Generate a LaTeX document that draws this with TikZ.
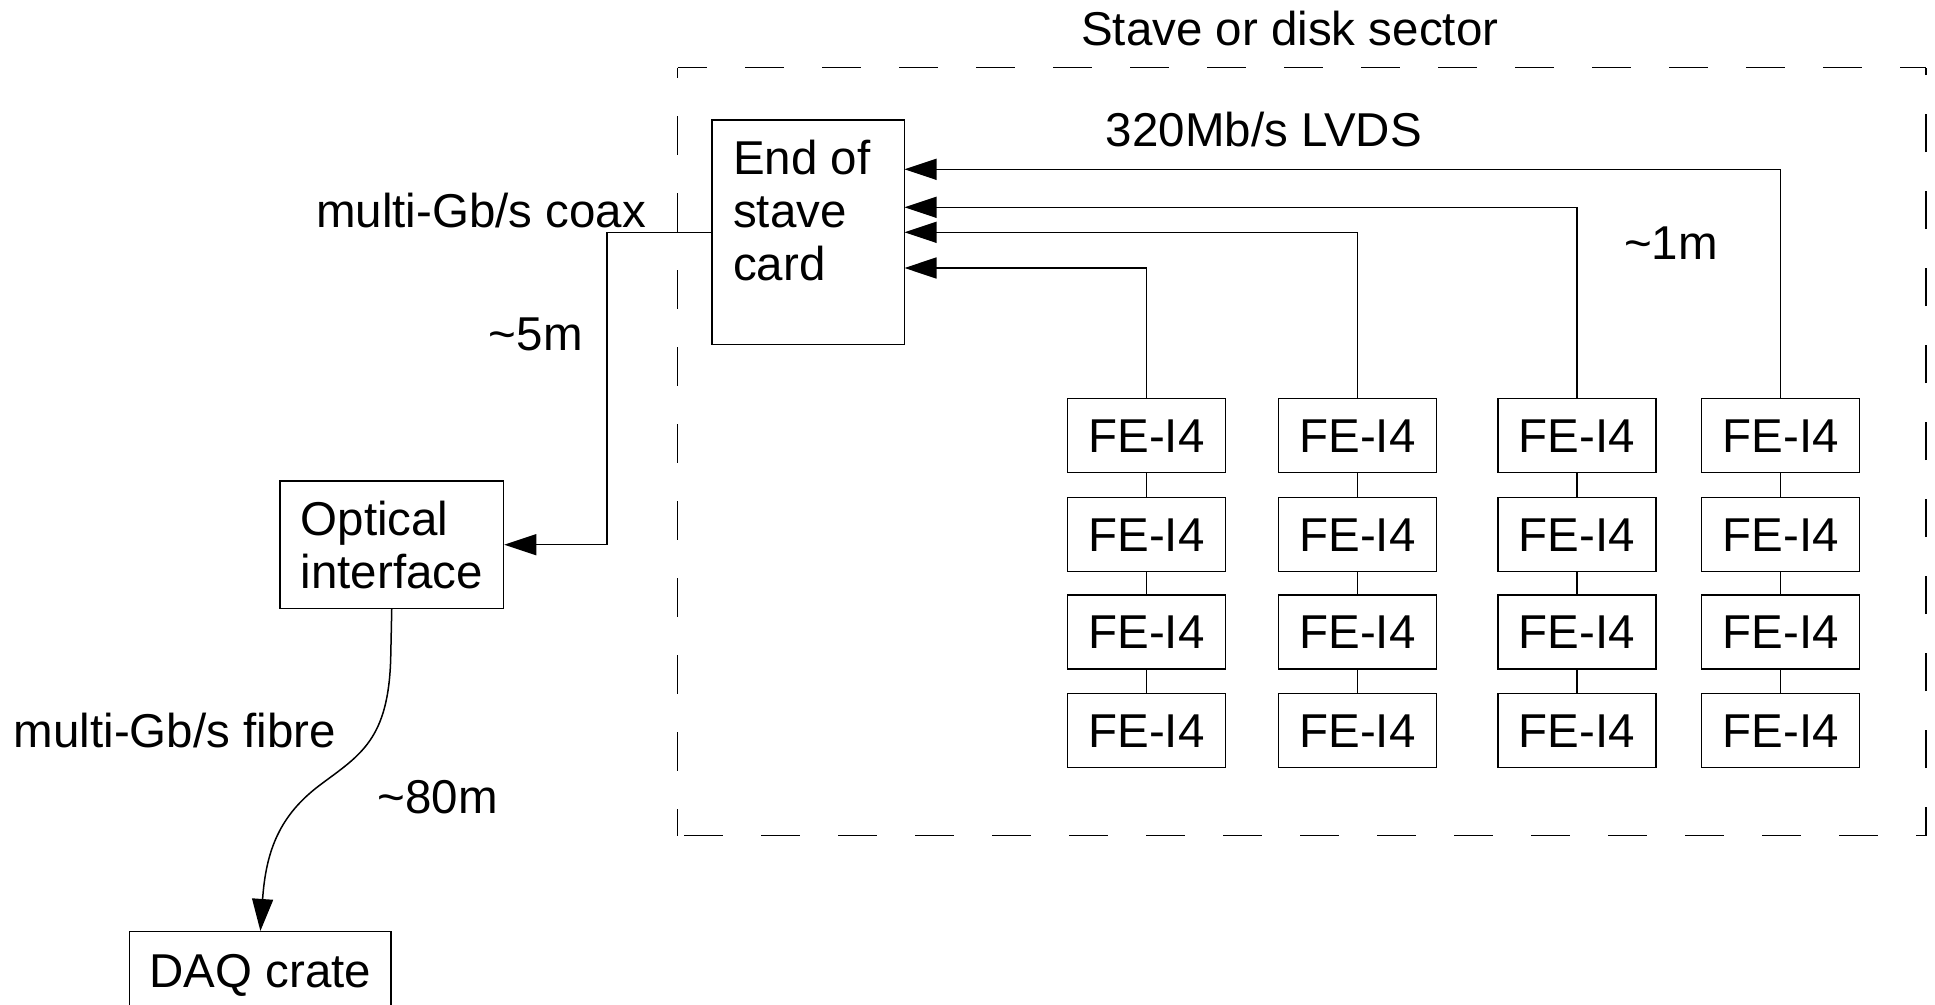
\documentclass[tikz,border=0pt]{standalone}
\usepackage{fontspec}
\setmainfont{Liberation Sans}
\usetikzlibrary{arrows.meta}
\begin{document}
\begin{tikzpicture}[x=1pt,y=-1pt,
  every node/.style={font=\fontsize{47.5}{53}\selectfont},
  ln/.style={line width=1.5pt},
  arr/.style={ln,-{Triangle[length=32pt,width=21pt]}},
  febox/.style={draw,ln,minimum width=158pt,minimum height=74pt,inner sep=0pt,text height=34pt,text depth=0pt},
  txt/.style={inner sep=0pt},
  dsh/.style={ln,dash pattern=on 38.5pt off 38.5pt}
]
\useasboundingbox (0,0) rectangle (1935,1004);

% dashed sector outline
\draw[dsh,dash phase=9.5] (677.5,67.5) -- (1926,67.5);
\draw[dsh,dash phase=28.5] (677.5,67.5) -- (677.5,835.5);
\draw[dsh,dash phase=28.5] (1926,835.5) -- (677.5,835.5);
\draw[dsh,dash phase=9.5] (1926,835.5) -- (1926,67.5);
\node[txt,anchor=base west] (stave) at (1081,45) {Stave or disk sector};

% end of stave card
\node[draw,ln,minimum width=192.5pt,minimum height=224.6pt,inner sep=0pt] (card) at (808.3,232.3) {};
\node[txt,anchor=west,align=left] (cardtxt) at (733,211) {End of\\stave\\card};

% FE-I4 chips
\foreach \c/\x in {1/1146.4,2/1357.4,3/1577,4/1780.7}{
  \foreach \r/\y in {1/435.6,2/534.3,3/631.8,4/730.5}{
    \node[febox] (f\c\r) at (\x,\y) {FE-I4};
  }
  \draw[ln] (f\c1.south) -- (f\c2.north);
  \draw[ln] (f\c2.south) -- (f\c3.north);
  \draw[ln] (f\c3.south) -- (f\c4.north);
}

% LVDS links
\coordinate (e1) at (904.5,268);
\coordinate (e2) at (904.5,232.3);
\coordinate (e3) at (904.5,207.3);
\coordinate (e4) at (904.5,169.3);
\draw[arr] (f11.north) |- (e1);
\draw[arr] (f21.north) |- (e2);
\draw[arr] (f31.north) |- (e3);
\draw[arr] (f41.north) |- (e4);
\node[txt,anchor=base west] (lvds) at (1105.7,146.6) {320Mb/s LVDS};
\node[txt,anchor=base west] (onem) at (1624,259) {\textasciitilde 1m};

% optical interface
\node[draw,ln,minimum width=223.5pt,minimum height=127.4pt,inner sep=0pt,align=left] (oi) at (391.75,544.7) {Optical\\interface};
\coordinate (cx) at (607,232.3);
\draw[arr] (card.west) -- (cx) |- (oi.east);
\node[txt,anchor=base west] (coax) at (316,227) {multi-Gb/s coax};
\node[txt,anchor=base west] (fivem) at (488.7,350) {\textasciitilde 5m};

% DAQ crate
\node[draw,ln,minimum width=261.6pt,minimum height=76.6pt,inner sep=0pt,text height=34pt,text depth=0pt] (daq) at (260.4,970) {DAQ crate};
\draw[arr] (oi.south) -- ++(-1,47) .. controls (389,740) and (360,755) .. (320,785)
   .. controls (280,815) and (266,850) .. (daq.north);
\node[txt,anchor=base west] (fibre) at (13.6,747.5) {multi-Gb/s fibre};
\node[txt,anchor=base west] (eightym) at (377.6,813) {\textasciitilde 80m};
\end{tikzpicture}
\end{document}
